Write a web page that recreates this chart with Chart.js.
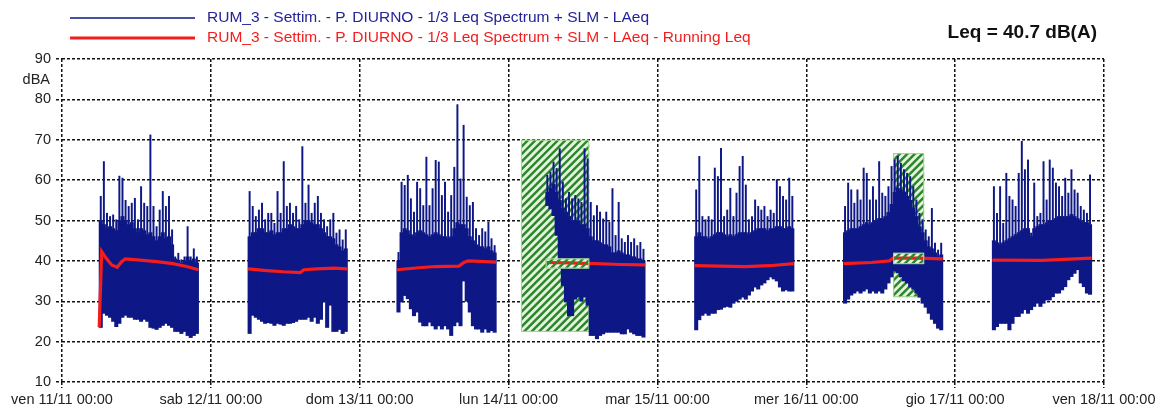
<!DOCTYPE html>
<html>
<head>
<meta charset="utf-8">
<script src="https://cdn.jsdelivr.net/npm/chart.js@4.4.0/dist/chart.umd.min.js"></script>
<style>
  html, body { margin: 0; padding: 0; background: #ffffff; }
  #wrap { width: 1166px; height: 412px; position: relative; }
</style>
</head>
<body>
<div id="wrap"><canvas id="chart" width="1166" height="412"></canvas></div>
<script>
// Day boundaries on the time axis (hours from ven 11/11 00:00)
const DAY_LABELS = [
  'ven 11/11 00:00', 'sab 12/11 00:00', 'dom 13/11 00:00', 'lun 14/11 00:00',
  'mar 15/11 00:00', 'mer 16/11 00:00', 'gio 17/11 00:00', 'ven 18/11 00:00'
];
const Y_UNIT = 'dBA';
const SERIES_LAEQ = 'RUM_3 - Settim. - P. DIURNO - 1/3 Leq Spectrum + SLM - LAeq';
const SERIES_RUNNING = 'RUM_3 - Settim. - P. DIURNO - 1/3 Leq Spectrum + SLM - LAeq - Running Leq';
const LEQ_TOTAL = 40.7;

// Daytime period 06:00-22:00, LAeq summarised in 30-minute bins (dB):
// peak level, upper edge of the dense trace, and minimum level.
const PERIOD_START_H = 6;
const BIN_H = 0.5;

const laeqMax = [
  [56.0, 64.6, 51.8, 51.0, 51.4, 50.2, 61.0, 60.5, 55.0, 53.5, 54.3, 55.5, 50.2, 58.4, 54.3, 53.5,
   71.2, 53.5, 48.5, 52.6, 57.2, 53.5, 56.0, 47.7, 41.0, 41.9, 40.3, 41.0, 48.5, 41.0, 43.0, 41.0],
  [57.2, 53.5, 51.0, 52.6, 54.3, 50.2, 51.8, 51.8, 49.3, 57.2, 51.8, 64.6, 53.5, 54.3, 51.8, 53.5,
   50.2, 68.3, 54.3, 58.8, 51.8, 54.3, 56.0, 51.8, 50.2, 48.5, 50.2, 51.8, 46.9, 47.7, 45.2, 47.7],
  [42.1, 59.5, 58.7, 61.2, 55.4, 52.1, 59.5, 57.9, 53.7, 65.7, 53.7, 57.9, 64.9, 64.5, 56.2, 59.5,
   52.1, 56.2, 63.2, 78.7, 60.3, 73.6, 55.8, 53.7, 54.5, 48.0, 46.3, 48.0, 47.2, 49.6, 45.5, 43.8],
  [61.2, 62.0, 64.5, 62.9, 67.8, 59.5, 55.4, 57.0, 55.4, 56.2, 55.4, 54.5, 67.8, 65.3, 54.5, 51.2,
   53.7, 52.1, 50.4, 52.1, 49.6, 57.9, 46.3, 54.5, 45.5, 44.6, 46.3, 44.6, 45.5, 43.8, 44.6, 42.9],
  [57.6, 65.9, 51.0, 50.2, 51.0, 50.2, 63.0, 60.9, 67.9, 51.0, 52.6, 58.0, 51.0, 56.8, 63.4, 65.9,
   58.8, 50.2, 51.0, 55.1, 53.5, 52.6, 53.5, 51.0, 52.6, 51.8, 60.1, 58.4, 56.0, 55.1, 60.5, 56.0],
  [53.5, 59.3, 57.6, 54.3, 57.6, 55.1, 63.0, 61.7, 55.1, 58.4, 55.1, 64.6, 56.8, 56.0, 58.4, 63.4,
   65.0, 65.9, 64.2, 62.6, 61.7, 60.9, 58.4, 55.1, 51.8, 50.2, 47.7, 46.0, 53.0, 44.4, 42.7, 44.4],
  [58.4, 51.8, 58.4, 49.3, 61.7, 56.0, 55.1, 53.5, 61.7, 69.6, 62.6, 65.0, 46.9, 59.3, 51.0, 51.8,
   64.6, 55.1, 65.0, 63.0, 59.3, 58.4, 56.0, 60.5, 56.8, 62.6, 57.6, 56.8, 53.5, 52.6, 51.8, 61.3]
];

const laeqUpper = [
  [50.0, 49.0, 48.0, 48.5, 48.0, 47.5, 50.0, 51.0, 50.0, 49.0, 49.5, 48.0, 47.0, 48.0, 47.5, 46.5,
   47.0, 46.0, 45.0, 46.0, 47.0, 45.5, 46.0, 44.0, 40.5, 40.0, 39.5, 40.0, 41.0, 40.0, 40.5, 39.5],
  [46.0, 47.0, 47.0, 48.0, 48.0, 47.0, 47.0, 47.5, 46.5, 47.0, 47.0, 48.0, 48.0, 49.0, 48.5, 48.0,
   48.0, 49.0, 50.0, 50.0, 49.5, 49.0, 49.0, 48.0, 47.0, 46.0, 46.0, 45.5, 44.0, 43.5, 42.5, 43.0],
  [40.0, 47.0, 48.0, 47.5, 46.5, 46.0, 47.0, 47.5, 47.0, 46.5, 46.0, 46.5, 47.0, 46.5, 46.0, 46.0,
   45.5, 46.0, 48.0, 49.5, 49.0, 49.0, 48.0, 46.0, 45.0, 44.0, 43.5, 43.5, 43.0, 43.5, 42.5, 42.0],
  [57.0, 58.0, 59.0, 57.0, 55.0, 53.0, 52.0, 51.0, 50.0, 50.0, 50.0, 49.0, 49.0, 48.0, 46.0, 45.0,
   45.0, 44.5, 44.0, 44.0, 43.5, 42.0, 42.0, 42.5, 42.0, 41.5, 41.5, 41.0, 41.0, 40.5, 40.5, 40.0],
  [46.0, 47.0, 46.0, 46.0, 45.5, 46.0, 46.5, 47.0, 47.0, 46.5, 46.0, 46.5, 46.0, 46.5, 47.0, 47.0,
   47.0, 46.5, 47.0, 47.5, 48.0, 48.0, 48.0, 47.5, 48.0, 48.0, 48.5, 48.5, 48.0, 48.0, 48.5, 48.0],
  [47.0, 47.5, 48.0, 48.0, 48.0, 48.5, 49.0, 49.5, 49.0, 49.5, 50.0, 50.5, 50.5, 51.0, 52.0, 54.0,
   57.0, 58.0, 57.5, 57.0, 56.0, 55.0, 53.0, 51.0, 48.5, 47.0, 45.0, 43.5, 43.0, 42.0, 41.0, 41.5],
  [45.0, 44.5, 44.0, 44.5, 45.0, 45.5, 46.0, 46.5, 47.0, 47.5, 48.0, 48.0, 46.0, 48.0, 48.5, 49.0,
   49.0, 49.5, 50.0, 50.0, 50.5, 51.0, 51.0, 51.0, 51.0, 51.5, 51.0, 50.5, 50.0, 49.5, 49.5, 49.0]
];

const laeqMin = [
  [23.5, 27.0, 26.5, 26.0, 25.0, 23.7, 24.5, 26.0, 26.5, 26.0, 26.0, 25.5, 25.5, 25.0, 25.5, 25.0,
   23.5, 23.3, 23.0, 23.5, 24.0, 24.5, 24.0, 23.5, 22.5, 22.5, 22.0, 22.5, 21.5, 21.0, 21.5, 22.0],
  [22.0, 26.5, 26.0, 25.5, 25.0, 24.5, 24.7, 24.5, 24.0, 24.5, 24.3, 24.0, 24.5, 24.5, 24.7, 25.0,
   25.5, 25.5, 25.5, 26.0, 25.0, 26.0, 24.5, 25.5, 30.0, 23.5, 29.0, 22.5, 22.5, 23.0, 22.0, 22.5],
  [27.3, 29.8, 31.4, 30.6, 28.1, 26.4, 27.3, 24.8, 23.9, 23.9, 24.8, 23.9, 23.1, 23.9, 23.1, 23.9,
   23.1, 21.5, 23.9, 24.8, 23.9, 35.0, 30.0, 27.3, 23.9, 23.1, 23.1, 22.3, 23.1, 22.3, 22.7, 22.3],
  [53.7, 52.9, 51.2, 46.3, 38.1, 33.9, 29.8, 26.4, 26.4, 30.5, 31.0, 30.0, 31.0, 29.0, 21.5, 21.5,
   20.7, 21.5, 21.9, 22.3, 22.3, 22.3, 22.3, 22.3, 21.9, 21.9, 23.1, 22.3, 21.9, 21.5, 21.5, 21.1],
  [22.9, 25.4, 26.5, 27.0, 26.5, 27.0, 27.0, 27.9, 28.0, 28.5, 28.7, 28.5, 29.5, 30.0, 30.5, 31.0,
   30.5, 31.5, 32.5, 33.5, 33.0, 34.0, 34.5, 35.3, 36.0, 35.5, 35.0, 33.5, 32.5, 32.8, 32.5, 32.5],
  [29.5, 30.5, 31.5, 32.0, 32.5, 32.0, 32.5, 33.0, 32.0, 32.5, 32.0, 32.5, 32.0, 33.0, 34.5, 36.0,
   37.5, 37.0, 36.0, 35.0, 34.5, 33.5, 33.0, 32.0, 31.0, 29.5, 28.5, 27.0, 25.5, 24.5, 23.3, 22.9],
  [22.9, 23.7, 24.5, 24.5, 24.5, 22.9, 24.5, 26.2, 26.2, 27.0, 27.9, 27.0, 27.9, 28.7, 29.5, 28.7,
   29.5, 30.3, 30.3, 31.1, 32.0, 32.0, 32.8, 33.6, 35.3, 36.1, 36.9, 37.8, 34.5, 33.6, 32.0, 31.7]
];

// Running Leq per day: [hour of day, dB]
const runningLeq = [
  [[6.0, 23.6], [6.4, 42.3], [7.1, 40.7], [8.0, 39.0], [8.9, 38.4], [9.6, 39.8], [10.2, 40.5],
   [12.6, 40.2], [15.3, 39.8], [17.9, 39.3], [20.1, 38.6], [22.0, 37.8]],
  [[6.0, 38.0], [9.0, 37.6], [11.7, 37.3], [14.4, 37.1], [15.0, 37.8], [17.1, 38.0], [19.8, 38.2], [22.0, 38.0]],
  [[6.0, 37.8], [9.5, 38.3], [12.2, 38.6], [16.0, 38.7], [16.8, 39.6], [17.5, 40.0], [22.0, 39.7]],
  [[6.0, 39.6], [10.0, 39.5], [14.0, 39.3], [18.0, 39.1], [22.0, 39.0]],
  [[6.0, 38.8], [14.2, 38.6], [18.0, 38.8], [22.0, 39.3]],
  [[6.0, 39.3], [10.5, 39.6], [13.4, 40.0], [14.0, 40.7], [18.0, 40.7], [22.0, 40.5]],
  [[6.0, 40.2], [14.0, 40.1], [22.0, 40.7]]
];

// Masked (excluded) periods: day index, from/to hour, level range (dB)
const maskedLevels = [
  { day: 3, from: 2, to: 13, low: 22.4, high: 70.0 },
  { day: 5, from: 14, to: 19, low: 31.0, high: 66.7 }
];
const maskedRunning = [
  { day: 3, from: 6, to: 13, low: 38.1, high: 40.6 },
  { day: 5, from: 14, to: 19, low: 39.2, high: 42.0 }
];

// ---- build datasets -------------------------------------------------------
const denseData = [];   // solid part of the trace: min .. upper edge
const peakData = [];    // isolated peaks above it: upper edge .. max
laeqMax.forEach((dayMax, d) => {
  dayMax.forEach((hi, i) => {
    const x = d * 24 + PERIOD_START_H + BIN_H * i + BIN_H / 2;
    denseData.push({ x: x, y: [laeqMin[d][i], laeqUpper[d][i]] });
    peakData.push({ x: x, y: [laeqUpper[d][i], hi] });
  });
});

const runData = [];
runningLeq.forEach((pts, d) => {
  pts.forEach(([h, v]) => runData.push({ x: d * 24 + h, y: v }));
  runData.push({ x: d * 24 + 23, y: null });
});

const FONT = "'Liberation Sans', Arial, sans-serif";
const NAVY = '#0d1786';
const RED = '#f41c1c';

function hatchFill(ctx, x0, y0, x1, y1) {
  ctx.save();
  ctx.fillStyle = '#e4f4dc';
  ctx.fillRect(x0, y0, x1 - x0, y1 - y0);
  ctx.restore();
}
function stripes(ctx, x0, y0, x1, y1) {
  ctx.save();
  ctx.beginPath();
  ctx.rect(x0, y0, x1 - x0, y1 - y0);
  ctx.clip();
  ctx.strokeStyle = '#2a862a';
  ctx.lineWidth = 2.4;
  const h = y1 - y0;
  ctx.beginPath();
  for (let k = x0 - h; k < x1 + 8; k += 7.5) {
    ctx.moveTo(k, y1);
    ctx.lineTo(k + h, y0);
  }
  ctx.stroke();
  ctx.restore();
  ctx.save();
  ctx.strokeStyle = '#9fd48f';
  ctx.lineWidth = 1;
  ctx.strokeRect(x0 + 0.5, y0 + 0.5, x1 - x0 - 1, y1 - y0 - 1);
  ctx.restore();
}

const maskPlugin = {
  id: 'maskPlugin',
  beforeDatasetsDraw(chart) {
    const { ctx, scales: { x, y } } = chart;
    maskedLevels.forEach(m => {
      const x0 = x.getPixelForValue(m.day * 24 + m.from);
      const x1 = x.getPixelForValue(m.day * 24 + m.to);
      const y0 = y.getPixelForValue(m.high);
      const y1 = y.getPixelForValue(m.low);
      hatchFill(ctx, x0, y0, x1, y1);
      stripes(ctx, x0, y0, x1, y1);
    });
  },
  afterDatasetsDraw(chart) {
    const { ctx, scales: { x, y } } = chart;
    const lineMeta = chart.getDatasetMeta(0);
    maskedRunning.forEach(m => {
      const x0 = x.getPixelForValue(m.day * 24 + m.from);
      const x1 = x.getPixelForValue(m.day * 24 + m.to);
      const y0 = y.getPixelForValue(m.high);
      const y1 = y.getPixelForValue(m.low);
      hatchFill(ctx, x0, y0, x1, y1);
      ctx.save();
      ctx.beginPath();
      ctx.rect(x0, y0, x1 - x0, y1 - y0);
      ctx.clip();
      lineMeta.dataset.draw(ctx, chart.chartArea);
      ctx.restore();
      stripes(ctx, x0, y0, x1, y1);
    });
  }
};

const textPlugin = {
  id: 'textPlugin',
  afterDraw(chart) {
    const ctx = chart.ctx;
    ctx.save();
    // legend
    ctx.lineCap = 'butt';
    ctx.strokeStyle = NAVY;
    ctx.lineWidth = 1.5;
    ctx.beginPath(); ctx.moveTo(70, 18); ctx.lineTo(195, 18); ctx.stroke();
    ctx.strokeStyle = RED;
    ctx.lineWidth = 3;
    ctx.beginPath(); ctx.moveTo(70, 38); ctx.lineTo(195, 38); ctx.stroke();
    ctx.font = '15.5px ' + FONT;
    ctx.textBaseline = 'middle';
    ctx.textAlign = 'left';
    ctx.fillStyle = '#23239a';
    ctx.fillText(SERIES_LAEQ, 207, 18);
    ctx.fillStyle = RED;
    ctx.fillText(SERIES_RUNNING, 207, 38);
    // overall level
    ctx.font = 'bold 19px ' + FONT;
    ctx.fillStyle = '#111';
    ctx.textAlign = 'right';
    ctx.fillText('Leq = ' + LEQ_TOTAL.toFixed(1) + ' dB(A)', 1097, 33);
    // unit under the top tick
    ctx.font = '14.5px ' + FONT;
    ctx.fillStyle = '#222';
    ctx.fillText(Y_UNIT, 50, 80);
    ctx.restore();
  }
};

const gridCommon = {
  color: '#111',
  lineWidth: 1.5,
  drawTicks: true,
  tickLength: 6,
  tickColor: '#111',
  tickWidth: 1.5,
  tickBorderDash: [3, 2],
  offset: false
};

new Chart(document.getElementById('chart').getContext('2d'), {
  type: 'bar',
  data: {
    datasets: [
      {
        type: 'line',
        label: SERIES_RUNNING,
        data: runData,
        borderColor: RED,
        borderWidth: 3.2,
        pointRadius: 0,
        tension: 0,
        spanGaps: false,
        order: 0
      },
      {
        type: 'bar',
        label: SERIES_LAEQ,
        data: denseData,
        backgroundColor: NAVY,
        borderWidth: 0,
        barThickness: 3.4,
        grouped: false,
        order: 1
      },
      {
        type: 'bar',
        label: SERIES_LAEQ + ' (peaks)',
        data: peakData,
        backgroundColor: NAVY,
        borderWidth: 0,
        barThickness: 1.3,
        grouped: false,
        order: 2
      }
    ]
  },
  options: {
    responsive: false,
    animation: false,
    events: [],
    layout: { padding: { top: 59, right: 62, left: 0, bottom: 0 } },
    plugins: { legend: { display: false }, tooltip: { enabled: false } },
    scales: {
      x: {
        type: 'linear',
        min: 0,
        max: 168,
        offset: false,
        afterBuildTicks(scale) {
          scale.ticks = DAY_LABELS.map((_, i) => ({ value: i * 24 }));
        },
        ticks: {
          autoSkip: false,
          maxRotation: 0,
          padding: 3,
          color: '#222',
          font: { family: FONT, size: 14.5 },
          callback: (v) => DAY_LABELS[Math.round(v / 24)]
        },
        grid: gridCommon,
        border: { display: false, dash: [3, 2] },
        afterFit(scale) { scale.height = 30; }
      },
      y: {
        min: 10,
        max: 90,
        ticks: {
          stepSize: 10,
          padding: 5,
          color: '#222',
          font: { family: FONT, size: 14.5 }
        },
        grid: gridCommon,
        border: { display: false, dash: [3, 2] },
        afterFit(scale) { scale.width = 62; }
      }
    }
  },
  plugins: [maskPlugin, textPlugin]
});
</script>
</body>
</html>
